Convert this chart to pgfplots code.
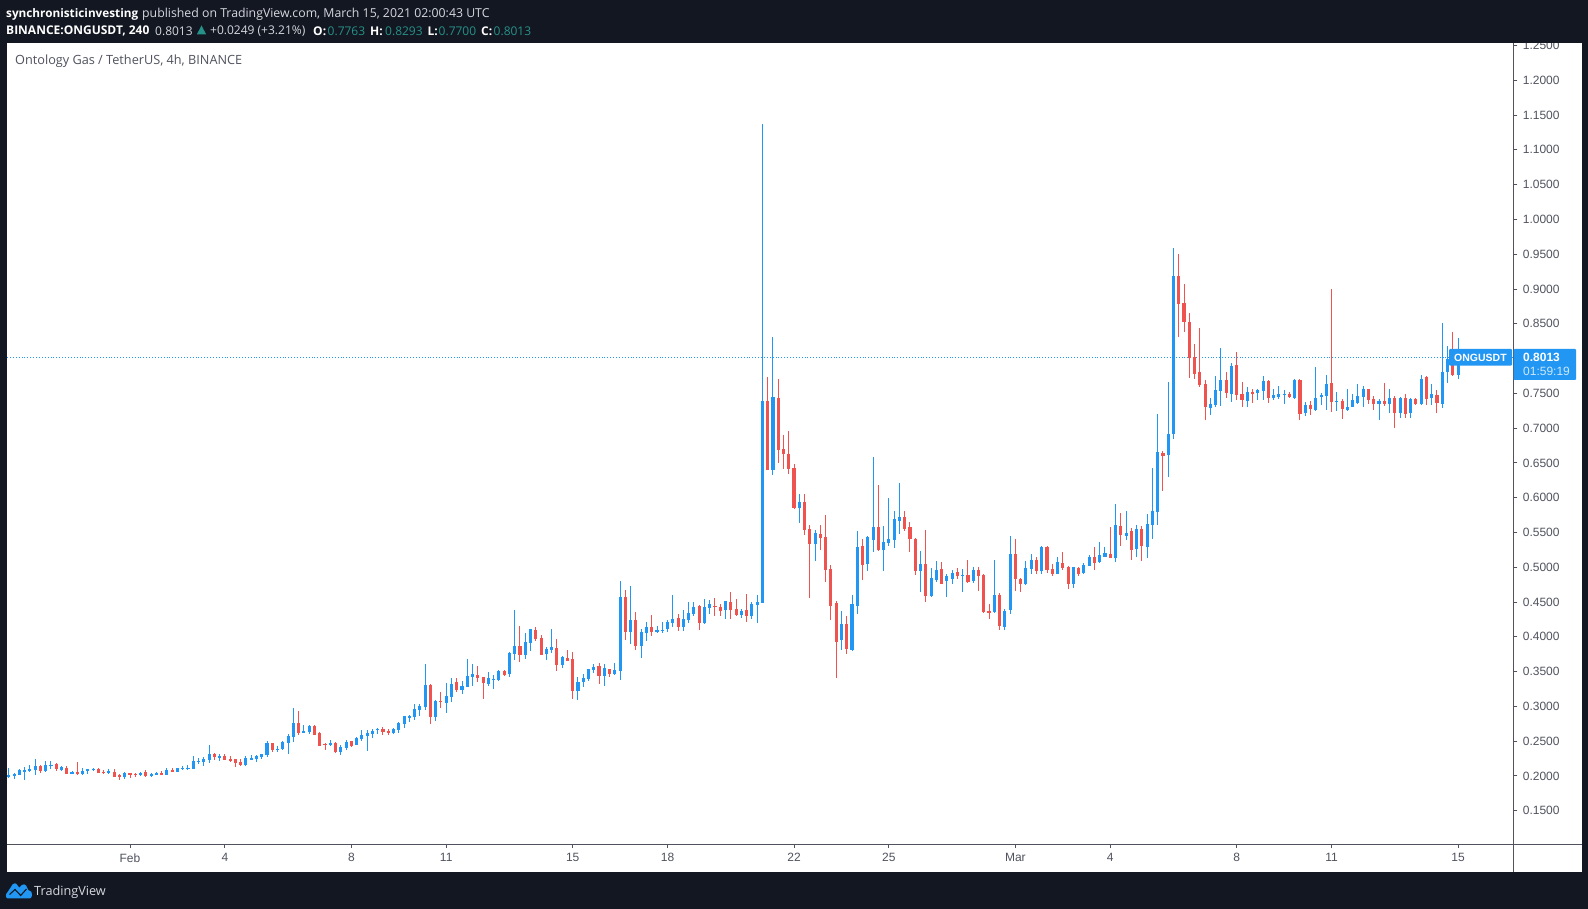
\documentclass[border=0pt]{standalone}
\usepackage{fontspec}
\usepackage{pgfplots}
\usepackage{pgfplotstable}
\pgfplotsset{compat=1.18}
\setmainfont{Liberation Sans}
\newfontfamily\hdr{Open Sans}
\newfontfamily\dejavu{DejaVu Sans}
\definecolor{bg}{HTML}{131722}
\definecolor{bl}{HTML}{2196F3}
\definecolor{rd}{HTML}{EF5350}
\definecolor{axc}{HTML}{50535E}
\definecolor{teal1}{HTML}{269188}
\definecolor{hw}{HTML}{D6D8DE}
\pgfplotstableread{
x l b t h
-23 .1966 .1985 .2014 .2115
-22 .1961 .1999 .2028 .2043
-21 .2009 .2019 .2086 .2100
-20 .1947 .2057 .2086 .2129
-19 .2062 .2072 .2100 .2153
-18 .2019 .2086 .2143 .2244
-16 .2057 .2072 .2153 .2215
-15 .2100 .2143 .2158 .2215
-13 .2072 .2086 .2129 .2143
-11 .2028 .2028 .2052 .2067
-9 .2014 .2028 .2072 .2115
-8 .2028 .2076 .2100 .2100
-7 .2072 .2086 .2100 .2115
-4 .2028 .2043 .2072 .2100
-1 .1957 .1985 .2043 .2057
2 .1999 .2014 .2043 .2057
4 .1985 .1999 .2028 .2043
5 .2014 .2019 .2043 .2057
7 .2014 .2014 .2086 .2115
9 .2057 .2057 .2115 .2115
10 .2086 .2100 .2115 .2139
11 .2086 .2100 .2115 .2158
12 .2100 .2100 .2215 .2287
13 .2172 .2201 .2215 .2254
14 .2143 .2201 .2244 .2268
15 .2186 .2230 .2316 .2445
17 .2215 .2258 .2287 .2316
22 .2143 .2158 .2258 .2287
23 .2230 .2230 .2258 .2301
24 .2201 .2244 .2287 .2301
25 .2244 .2273 .2316 .2316
26 .2273 .2301 .2474 .2503
28 .2345 .2373 .2388 .2431
29 .2373 .2388 .2488 .2503
30 .2316 .2474 .2575 .2603
31 .2488 .2560 .2761 .2977
33 .2618 .2618 .2646 .2733
34 .2603 .2632 .2718 .2733
38 .2431 .2445 .2474 .2517
40 .2301 .2345 .2416 .2445
41 .2373 .2402 .2488 .2517
43 .2445 .2445 .2546 .2560
44 .2503 .2531 .2589 .2665
45 .2359 .2575 .2618 .2661
46 .2546 .2603 .2646 .2675
47 .2603 .2661 .2675 .2689
50 .2603 .2618 .2675 .2689
51 .2618 .2661 .2761 .2776
52 .2690 .2748 .2863 .2863
53 .2777 .2834 .2863 .2877
54 .2805 .2849 .2964 .3035
55 .2863 .2949 .3007 .3035
56 .2949 .2992 .3308 .3610
58 .2791 .2849 .3078 .3093
60 .2906 .3050 .3150 .3337
61 .3064 .3136 .3323 .3409
63 .3179 .3236 .3294 .3366
64 .3280 .3280 .3438 .3682
65 .3294 .3423 .3466 .3610
68 .3294 .3323 .3409 .3495
69 .3251 .3380 .3395 .3452
70 .3366 .3380 .3510 .3524
72 .3423 .3466 .3768 .3783
73 .3668 .3754 .3869 .4386
75 .3682 .3739 .3926 .4056
76 .3797 .3912 .4113 .4113
79 .3668 .3754 .3826 .3854
80 .3768 .3811 .3854 .4113
82 .3553 .3596 .3711 .3725
85 .3093 .3222 .3351 .3423
86 .3280 .3351 .3409 .3466
87 .3366 .3395 .3538 .3538
88 .3481 .3524 .3567 .3610
90 .3294 .3438 .3553 .3610
92 .3452 .3466 .3524 .3624
93 .3380 .3510 .4573 .4803
95 .3898 .4070 .4242 .4731
97 .3696 .3869 .4070 .4113
98 .3941 .4056 .4142 .4214
100 .4056 .4070 .4099 .4156
101 .4056 .4084 .4099 .4214
102 .4070 .4113 .4214 .4242
103 .4142 .4199 .4257 .4602
105 .4084 .4142 .4257 .4386
106 .4199 .4242 .4343 .4501
107 .4300 .4329 .4429 .4501
109 .4185 .4199 .4429 .4544
110 .4329 .4415 .4472 .4530
113 .4257 .4386 .4515 .4515
116 .4271 .4314 .4372 .4400
118 .4257 .4300 .4472 .4501
119 .4199 .4458 .4501 .4602
120 .4487 .4487 .7390 1.1378
122 .6327 .6399 .7447 .8310
127 .5637 .5852 .5939 .6054
130 .5091 .5335 .5493 .5536
135 .3812 .3956 .4186 .4372
137 .3798 .3812 .4473 .4602
138 .4329 .4444 .5292 .5522
140 .4947 .5048 .5436 .5450
141 .5220 .5393 .5579 .6585
143 .4947 .5249 .5364 .5594
144 .5306 .5350 .5407 .6000
145 .5278 .5393 .5694 .5809
146 .5479 .5666 .5723 .6212
150 .4645 .4947 .5048 .5235
152 .4574 .4588 .4847 .4990
153 .4789 .4818 .4962 .5091
155 .4574 .4803 .4875 .4904
156 .4760 .4832 .4918 .4962
158 .4645 .4875 .4890 .4976
160 .4775 .4803 .4962 .5005
164 .4344 .4358 .4602 .5105
166 .4099 .4142 .4372 .4401
167 .4329 .4387 .5191 .5450
170 .4746 .4760 .4990 .5091
171 .4904 .4976 .5105 .5191
173 .4904 .4948 .5292 .5307
176 .4904 .4904 .5077 .5149
179 .4703 .4761 .5005 .5005
181 .4904 .4914 .5034 .5062
182 .5019 .5019 .5149 .5177
184 .5062 .5077 .5177 .5364
185 .5149 .5149 .5206 .5292
187 .5077 .5134 .5609 .5910
189 .5393 .5451 .5494 .5810
191 .5149 .5264 .5551 .5608
193 .5134 .5292 .5623 .5767
194 .5407 .5609 .5810 .6428
195 .5609 .5795 .6658 .7204
197 .6298 .6614 .6916 .7663
198 .6844 .6916 .9187 .9589
205 .7189 .7290 .7347 .7434
206 .7304 .7333 .7548 .7750
207 .7319 .7534 .7692 .8152
209 .7376 .7491 .7893 .7936
212 .7304 .7390 .7520 .7591
214 .7405 .7505 .7548 .7563
215 .7405 .7534 .7678 .7749
217 .7405 .7433 .7476 .7563
218 .7419 .7448 .7491 .7606
219 .7347 .7476 .7491 .7548
221 .7419 .7433 .7692 .7706
223 .7175 .7218 .7333 .7376
225 .7247 .7261 .7433 .7879
226 .7333 .7448 .7476 .7505
227 .7261 .7462 .7635 .7764
229 .7247 .7376 .7390 .7520
231 .7247 .7261 .7304 .7563
232 .7304 .7304 .7405 .7491
233 .7347 .7361 .7462 .7635
234 .7304 .7448 .7563 .7606
237 .7117 .7347 .7390 .7419
239 .7218 .7347 .7433 .7563
241 .7146 .7218 .7433 .7448
243 .7146 .7218 .7419 .7433
245 .7333 .7347 .7706 .7764
247 .7333 .7433 .7491 .7635
249 .7290 .7347 .7807 .8511
250 .7649 .7807 .7994 .8181
252 .7700 .7763 .8013 .8293
}\upt
\pgfplotstableread{
x l b t h
-17 .2043 .2072 .2143 .2158
-14 .2072 .2100 .2172 .2186
-12 .2028 .2028 .2115 .2143
-10 .2014 .2028 .2057 .2201
-6 .2038 .2043 .2100 .2115
-5 .2028 .2043 .2057 .2086
-3 .1985 .1985 .2057 .2100
-2 .1942 .1985 .2014 .2028
0 .1971 .2014 .2043 .2043
1 .1985 .2014 .2028 .2043
3 .1985 .1999 .2057 .2086
6 .2014 .2014 .2043 .2072
8 .2057 .2057 .2086 .2115
16 .2230 .2273 .2316 .2330
18 .2230 .2230 .2287 .2316
19 .2201 .2215 .2244 .2287
20 .2129 .2186 .2244 .2244
21 .2143 .2158 .2201 .2244
27 .2345 .2373 .2474 .2474
32 .2589 .2618 .2761 .2934
35 .2589 .2589 .2718 .2733
36 .2431 .2431 .2618 .2632
37 .2373 .2450 .2460 .2474
39 .2330 .2345 .2474 .2488
42 .2416 .2431 .2503 .2503
48 .2589 .2632 .2675 .2704
49 .2589 .2618 .2651 .2675
57 .2748 .2849 .3308 .3323
59 .2978 .3064 .3078 .3208
62 .3208 .3236 .3351 .3409
66 .3351 .3409 .3452 .3581
67 .3107 .3337 .3423 .3423
71 .3438 .3452 .3510 .3524
74 .3639 .3739 .3869 .4156
77 .3941 .3969 .4099 .4142
78 .3739 .3739 .3984 .4027
81 .3510 .3596 .3840 .3969
83 .3653 .3653 .3696 .3811
84 .3107 .3222 .3682 .3783
89 .3323 .3438 .3581 .3624
91 .3423 .3466 .3538 .3538
94 .3955 .4070 .4573 .4673
96 .3811 .3869 .4242 .4357
99 .4012 .4070 .4142 .4314
104 .4084 .4142 .4271 .4329
108 .4099 .4199 .4444 .4458
111 .4300 .4429 .4444 .4559
112 .4300 .4372 .4429 .4472
114 .4257 .4386 .4501 .4645
115 .4300 .4314 .4400 .4544
117 .4214 .4300 .4386 .4616
121 .6399 .6399 .7390 .7735
123 .6499 .6686 .7433 .7706
124 .6413 .6628 .6700 .6901
125 .6341 .6413 .6628 .6959
126 .5838 .5852 .6427 .6485
128 .5464 .5536 .5939 .6054
129 .4559 .5335 .5551 .5608
131 .5249 .5421 .5479 .5608
132 .4789 .4962 .5436 .5752
133 .4243 .4444 .4976 .5033
134 .3410 .3927 .4487 .4516
136 .3754 .3826 .4186 .4300
139 .4818 .5033 .5306 .5407
142 .5235 .5249 .5579 .6183
147 .5522 .5551 .5723 .5809
148 .5220 .5407 .5579 .5651
149 .4890 .4947 .5407 .5421
151 .4502 .4588 .5048 .5536
154 .4760 .4760 .4976 .5076
157 .4832 .4875 .4933 .4990
159 .4775 .4789 .4890 .5105
161 .4660 .4875 .4962 .5005
162 .4344 .4358 .4890 .4904
163 .4257 .4344 .4372 .4473
165 .4099 .4157 .4602 .4631
168 .4660 .4832 .5191 .5407
169 .4645 .4760 .4832 .4847
172 .4904 .4947 .5105 .5148
174 .4919 .4962 .5292 .5307
175 .4876 .4904 .4976 .5048
177 .4962 .4991 .5062 .5221
178 .4689 .4761 .5005 .5019
180 .4876 .4904 .4991 .5005
183 .4962 .5062 .5149 .5292
186 .5134 .5134 .5192 .5580
188 .5307 .5465 .5594 .5781
190 .5106 .5249 .5522 .5565
192 .5091 .5307 .5551 .5594
196 .6097 .6600 .6643 .6672
199 .8310 .8784 .9187 .9503
200 .8382 .8526 .8799 .9072
201 .7721 .8008 .8526 .8655
202 .7707 .7778 .8023 .8210
203 .7592 .7620 .7807 .8439
204 .7117 .7304 .7635 .7692
208 .7434 .7505 .7692 .7807
210 .7405 .7477 .7908 .8095
211 .7304 .7405 .7491 .7663
213 .7361 .7491 .7520 .7563
216 .7361 .7433 .7678 .7692
220 .7433 .7448 .7491 .7520
222 .7117 .7203 .7692 .7706
224 .7189 .7275 .7333 .7390
228 .7232 .7376 .7649 .9000
230 .7132 .7275 .7390 .7419
235 .7347 .7405 .7563 .7563
236 .7261 .7347 .7419 .7462
238 .7318 .7347 .7390 .7649
240 .7002 .7218 .7433 .7462
242 .7146 .7203 .7433 .7491
244 .7333 .7347 .7419 .7433
246 .7333 .7419 .7735 .7749
248 .7218 .7361 .7476 .7548
251 .7749 .7764 .7994 .8382
}\downt
\pgfplotsset{
 wick/.style={draw=none,forget plot,mark=none,error bars/.cd,y dir=both,y explicit,error mark=none,error bar style={draw=#1,line width=1pt}},
 body/.style={draw=none,forget plot,mark=none,error bars/.cd,y dir=minus,y explicit,error mark=none,error bar style={draw=#1,line width=3.1pt}},
}
\newcommand\hs[1]{\fontsize{#1}{#1}\selectfont}
\begin{document}
\begin{tikzpicture}[x=1pt,y=1pt]
\useasboundingbox (0,0) rectangle (1588,909);
\fill[bg] (0,0) rectangle (1588,909);
\fill[white] (7,36.7) rectangle (1581.7,865.7);
\begin{axis}[
  at={(7pt,65pt)},anchor=south west,scale only axis,
  width=1506.3pt,height=800.7pt,
  xmin=-23.34,xmax=262.48,ymin=.1021,ymax=1.2532,
  axis y line*=right,axis x line*=bottom,
  axis line style={draw=axc,line width=.9pt,-},
  xtick={0,18,42,60,84,102,126,144,168,186,210,228,252},
  xticklabels={Feb,4,8,11,15,18,22,25,Mar,4,8,11,15},
  ytick={.15,.2,.25,.3,.35,.4,.45,.5,.55,.6,.65,.7,.75,.8,.85,.9,.95,1,1.05,1.1,1.15,1.2,1.25},
  tick style={draw=axc,line width=.9pt},
  tick align=outside,major tick length=4pt,
  tick label style={font=\hs{12},text=axc},
  yticklabel style={/pgf/number format/fixed,/pgf/number format/zerofill,/pgf/number format/precision=4,/pgf/number format/assume math mode=true,xshift=2pt},
  xticklabel style={yshift=-2pt},
  clip=true,
]
\addplot[bl,line width=.9pt,dotted,forget plot] coordinates {(-23.34,.8013) (262.48,.8013)};
\addplot[wick=bl] table[x=x,y=t,y error plus expr=\thisrow{h}-\thisrow{t},y error minus expr=\thisrow{t}-\thisrow{l}] {\upt};
\addplot[wick=rd] table[x=x,y=t,y error plus expr=\thisrow{h}-\thisrow{t},y error minus expr=\thisrow{t}-\thisrow{l}] {\downt};
\addplot[body=bl] table[x=x,y=t,y error plus expr=0,y error minus expr=\thisrow{t}-\thisrow{b}] {\upt};
\addplot[body=rd] table[x=x,y=t,y error plus expr=0,y error minus expr=\thisrow{t}-\thisrow{b}] {\downt};
\end{axis}
% axis extensions
\draw[axc,line width=.9pt] (1513.3,65) -- (1513.3,36.7);
\draw[axc,line width=.9pt] (1513.3,65) -- (1581.7,65);
% cover above the pane
\fill[bg] (0,865.7) rectangle (1588,909);
% price labels
\fill[bl,rounded corners=1pt] (1449,543.3) rectangle (1512,560);
\fill[bl,rounded corners=1pt] (1513.5,529) rectangle (1576,560);
\node[anchor=west,inner sep=0pt,text=white,font=\bfseries\hs{10.5}] at (1454,551.5) {ONGUSDT};
\node[anchor=west,inner sep=0pt,text=white,font=\bfseries\hs{12}] at (1523,551.3) {0.8013};
\node[anchor=west,inner sep=0pt,text=white!78!bl,font=\hs{12}] at (1523,537.3) {01:59:19};
% title
\node[anchor=west,inner sep=0pt,text=axc,font=\hdr\hs{12.7}] at (15,847.4) {Ontology Gas / TetherUS, 4h, BINANCE};
% header line 1
\node[anchor=west,inner sep=0pt,text=white,font=\hdr\bfseries\hs{11.75}] at (6,894.4) {synchronisticinvesting};
\node[anchor=west,inner sep=0pt,text=hw,font=\hdr\hs{12.3}] at (142,894.4) {published on TradingView.com, March 15, 2021 02:00:43 UTC};
% header line 2
\node[anchor=west,inner sep=0pt,text=white,font=\hdr\bfseries\hs{12}] at (6,877.8) {BINANCE:ONGUSDT, 240};
\node[anchor=west,inner sep=0pt,text=hw,font=\hdr\hs{12}] at (155,877.8) {0.8013};
\fill[teal1] (196.8,874.5) -- (206.2,874.5) -- (201.5,883.5) -- cycle;
\node[anchor=west,inner sep=0pt,text=hw,font=\hdr\hs{12}] at (210,877.8) {+0.0249 (+3.21\%)};
\node[anchor=west,inner sep=0pt,text=white,font=\hdr\bfseries\hs{12}] at (313,877.8) {O:};
\node[anchor=west,inner sep=0pt,text=teal1,font=\hdr\hs{12}] at (327.5,877.8) {0.7763};
\node[anchor=west,inner sep=0pt,text=white,font=\hdr\bfseries\hs{12}] at (370,877.8) {H:};
\node[anchor=west,inner sep=0pt,text=teal1,font=\hdr\hs{12}] at (385,877.8) {0.8293};
\node[anchor=west,inner sep=0pt,text=white,font=\hdr\bfseries\hs{12}] at (427.5,877.8) {L:};
\node[anchor=west,inner sep=0pt,text=teal1,font=\hdr\hs{12}] at (438.5,877.8) {0.7700};
\node[anchor=west,inner sep=0pt,text=white,font=\hdr\bfseries\hs{12}] at (481,877.8) {C:};
\node[anchor=west,inner sep=0pt,text=teal1,font=\hdr\hs{12}] at (493.5,877.8) {0.8013};
% logo
\fill[bl] (7.5,10.7) .. controls (5.5,10.7) and (5.5,15.5) .. (7,16) -- (12.7,24.7) .. controls (14,26) and (15.5,26) .. (16.5,25) -- (19.3,21.3) -- (22,24) .. controls (23.5,25) and (25,25) .. (26,23.5) -- (28.3,19) .. controls (31,19) and (32.5,16) .. (32,14) .. controls (32,12) and (31,10.7) .. (30,10.7) -- cycle;
\draw[bg,line width=1.1pt] (9.5,14.5) -- (15,19.5) -- (20.7,13.5) -- (26.5,20);
\node[anchor=west,inner sep=0pt,text=hw,font=\hdr\hs{12.7}] at (34,16.8) {TradingView};
\end{tikzpicture}
\end{document}
